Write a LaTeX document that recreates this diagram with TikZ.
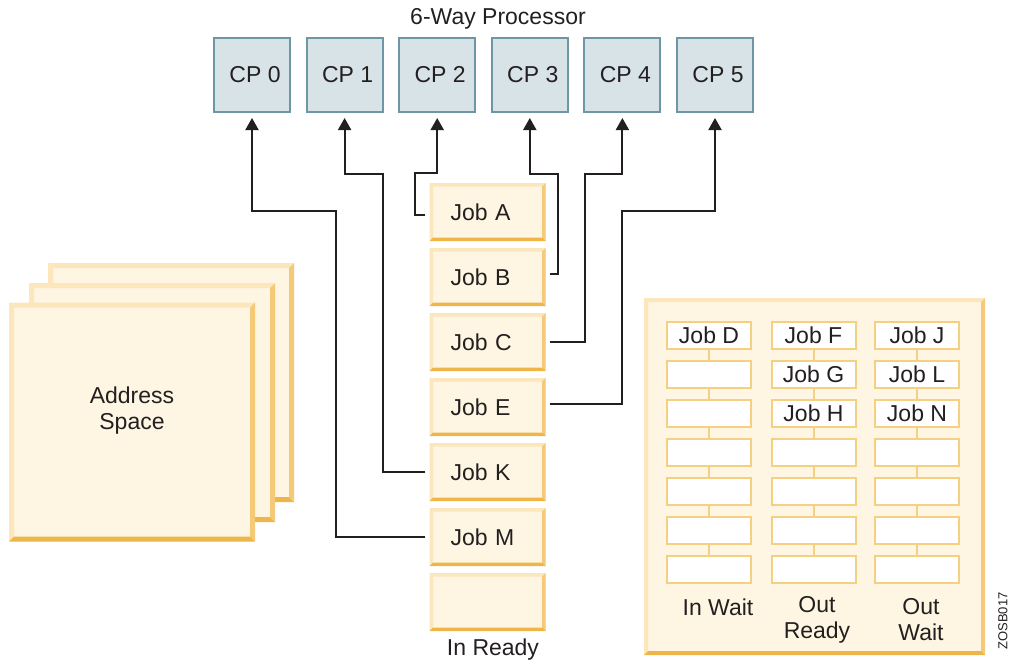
\documentclass[tikz,border=0pt]{standalone}
\usepackage{fontspec}
\setmainfont{Liberation Sans}
\usetikzlibrary{arrows.meta}

\definecolor{inkcol}{HTML}{231F20}
\definecolor{cpfill}{HTML}{D8E3E8}
\definecolor{cpedge}{HTML}{6E97A6}
\definecolor{jobfill}{HTML}{FEF6E2}
\definecolor{bevtop}{HTML}{FCE6BC}
\definecolor{bevside}{HTML}{F4CA78}
\definecolor{bevbottom}{HTML}{EEB649}
\definecolor{slotedge}{HTML}{F5CF82}

\begin{document}
\begin{tikzpicture}[%
            x=1pt, y=-1pt,
            every node/.style={text=inkcol, font=\fontsize{23}{26}\selectfont},
            bevel/.style={path picture={
                \path (path picture bounding box.north west) coordinate (nw)
                      (path picture bounding box.north east) coordinate (ne)
                      (path picture bounding box.south east) coordinate (se)
                      (path picture bounding box.south west) coordinate (sw);
                \fill[bevtop] (nw) -- (ne) -- ([shift={(-#1,-#1)}]ne) -- ([shift={(#1,-#1)}]nw) -- cycle;
                \fill[bevtop] (nw) -- ([shift={(#1,-#1)}]nw) -- ([shift={(#1,#1)}]sw) -- (sw) -- cycle;
                \fill[bevside] (ne) -- (se) -- ([shift={(-#1,#1)}]se) -- ([shift={(-#1,-#1)}]ne) -- cycle;
                \fill[bevbottom] (sw) -- (se) -- ([shift={(-#1,#1)}]se) -- ([shift={(#1,#1)}]sw) -- cycle;
            }},
            spacebox/.style={fill=jobfill, bevel=5pt, minimum width=246pt, minimum height=239pt, inner sep=0pt},
            jobbox/.style={fill=jobfill, bevel=3.5pt, minimum width=116pt, minimum height=58pt, inner sep=0pt, text width=74pt, align=left},
            panel/.style={fill=jobfill, bevel=4pt, minimum width=341pt, minimum height=357pt, inner sep=0pt},
            cpbox/.style={draw=cpedge, fill=cpfill, line width=2pt, minimum width=76pt, minimum height=74pt, inner sep=0pt},
            slot/.style={draw=slotedge, fill=white, line width=2pt, minimum width=84pt, minimum height=27pt, inner sep=0pt},
            slotlink/.style={draw=slotedge, line width=2pt},
            link/.style={draw=inkcol, line width=2pt, -{Triangle[width=13pt,length=12pt]}, shorten >=5pt, shorten <=4pt}
        ]
        \useasboundingbox (0,0) rectangle (1013,661);

        \node (title) at (498,19) {6-Way Processor};
        \foreach \i in {0,...,5}
            \node[cpbox] (cp\i) at (252+92.6*\i,75) {\hspace{6pt}CP \i};

        \node[spacebox] (asback) at (171,382.5) {};
        \node[spacebox] (asmid) at (152,402.5) {};
        \node[spacebox] (asfront) at (132,422) {};
        \node[align=center] (aslabel) at (132,411) {Address\\Space};

        \foreach \n/\t [count=\k from 0] in {jobA/Job A, jobB/Job B, jobC/Job C, jobE/Job E, jobK/Job K, jobM/Job M, jobX/{}}
            \node[jobbox] (\n) at (487.5,212+65*\k) {\t};
        \node (inready) at (493,650) {In Ready};

        \draw[link] (jobM.west) -| (336,211) -| (cp0.south);
        \draw[link] (jobK.west) -| (383,174) -| (cp1.south);
        \draw[link] ([yshift=-3pt]jobA.west) -| (415,173) -| (cp2.south);
        \draw[link] ([yshift=3pt]jobB.east) -| (558,174) -| (cp3.south);
        \draw[link] (jobC.east) -| (585,174) -| (cp4.south);
        \draw[link] ([yshift=3pt]jobE.east) -| (622,211) -| (cp5.south);

        \node[panel] (queues) at (814.5,476.5) {};
        \foreach \c/\x/\ja/\jb/\jc in {1/709/Job D/{}/{}, 2/813.5/Job F/Job G/Job H, 3/917/Job J/Job L/Job N} {
            \node[slot] (q\c-0) at (\x,335.5) {\ja};
            \node[slot] (q\c-1) at (\x,374.5) {\jb};
            \node[slot] (q\c-2) at (\x,413.5) {\jc};
            \foreach \r in {3,...,6}
                \node[slot] (q\c-\r) at (\x,335.5+39*\r) {};
            \foreach \r [evaluate=\r as \s using int(\r+1)] in {0,...,5}
                \draw[slotlink] (q\c-\r.south) -- (q\c-\s.north);
        }
        \node (inwait) at (718,607) {In Wait};
        \node[align=center] (outready) at (817,620) {Out\\Ready};
        \node[align=center] (outwait) at (921,620) {Out\\Wait};

        \node[rotate=90, font=\fontsize{13}{15}\selectfont] (figid) at (1003,621) {ZOSB017};
    \end{tikzpicture}
\end{document}
